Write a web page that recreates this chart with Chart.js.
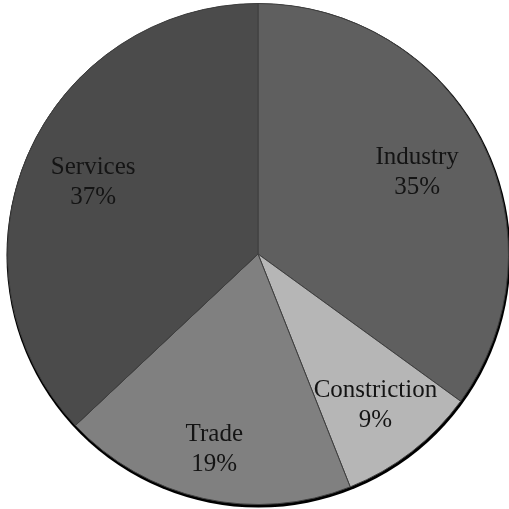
<!DOCTYPE html>
<html>
<head>
<meta charset="utf-8">
<script src="https://cdn.jsdelivr.net/npm/chart.js@4/dist/chart.umd.min.js"></script>
<style>
html,body{margin:0;padding:0;background:#fff;}
#c{display:block;}
</style>
</head>
<body>
<canvas id="c" width="509" height="509"></canvas>
<script>
const categories = ["Industry", "Constriction", "Trade", "Services"];
const values = [35, 9, 19, 37];
const sliceColors = ["#5f5f5f", "#b6b6b6", "#808080", "#4b4b4b"];
const labelRadiusFraction = [0.713, 0.765, 0.80, 0.717];

const shadowPlugin = {
  id: 'shadowRing',
  beforeDatasetsDraw(chart) {
    const arc = chart.getDatasetMeta(0).data[0];
    if (!arc) return;
    const ctx = chart.ctx;
    ctx.save();
    ctx.beginPath();
    ctx.arc(arc.x + 0.5, arc.y + 1.5, arc.outerRadius + 1.5, 0, Math.PI * 2);
    ctx.fillStyle = '#000';
    ctx.fill();
    ctx.restore();
  }
};

const labelPlugin = {
  id: 'sliceLabels',
  afterDatasetsDraw(chart) {
    const ctx = chart.ctx;
    const meta = chart.getDatasetMeta(0);
    const total = values.reduce((a, b) => a + b, 0);
    ctx.save();
    ctx.fillStyle = '#141414';
    ctx.font = '25px "Liberation Serif", "Times New Roman", serif';
    ctx.textAlign = 'center';
    ctx.textBaseline = 'middle';
    meta.data.forEach((el, i) => {
      const mid = (el.startAngle + el.endAngle) / 2;
      const r = el.outerRadius * labelRadiusFraction[i];
      const x = el.x + Math.cos(mid) * r;
      const y = el.y + Math.sin(mid) * r;
      const pct = Math.round(values[i] / total * 100) + '%';
      ctx.fillText(categories[i], x, y - 15);
      ctx.fillText(pct, x, y + 15);
    });
    ctx.restore();
  }
};

new Chart(document.getElementById('c'), {
  type: 'pie',
  data: {
    labels: categories,
    datasets: [{
      data: values,
      backgroundColor: sliceColors,
      borderColor: '#3f3f3f',
      borderWidth: 1
    }]
  },
  options: {
    responsive: false,
    animation: false,
    layout: { padding: { left: 7, right: 0, top: 3, bottom: 4 } },
    plugins: {
      legend: { display: false },
      tooltip: { enabled: false }
    }
  },
  plugins: [shadowPlugin, labelPlugin]
});
</script>
</body>
</html>
